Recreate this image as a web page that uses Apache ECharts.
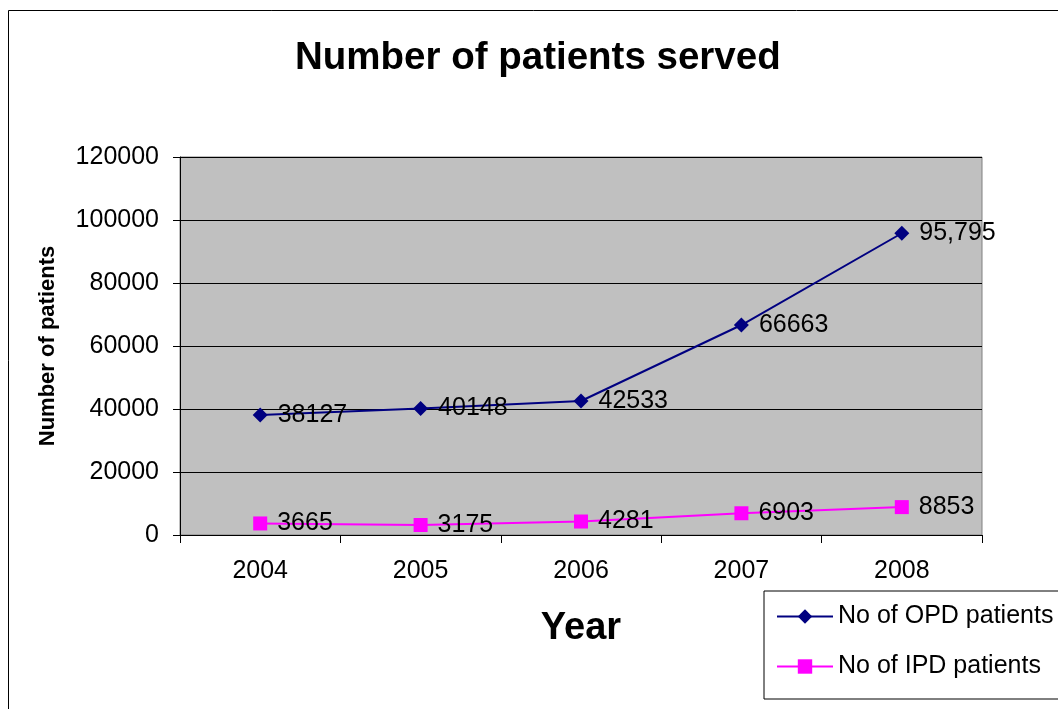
<!DOCTYPE html>
<html>
<head>
<meta charset="utf-8">
<script src="https://cdn.jsdelivr.net/npm/echarts@6/dist/echarts.min.js"></script>
<style>
  html, body { margin: 0; padding: 0; background: #fff; }
  #chart { width: 1058px; height: 709px; }
</style>
</head>
<body>
<div id="chart"></div>
<script>
// data
const years = ['2004', '2005', '2006', '2007', '2008'];
const opdValues = [38127, 40148, 42533, 66663, 95795];
const opdLabels = ['38127', '40148', '42533', '66663', '95,795'];
const ipdValues = [3665, 3175, 4281, 6903, 8853];
const ipdLabels = ['3665', '3175', '4281', '6903', '8853'];

const font = 'Liberation Sans, Arial, sans-serif';

const chart = echarts.init(document.getElementById('chart'));

const option = {
    animation: false,
    textStyle: { fontFamily: font },
    title: {
        text: 'Number of patients served',
        left: 290,
        top: 34,
        textStyle: { fontSize: 38.5, fontWeight: 'bold', color: '#000', fontFamily: font }
    },
    grid: {
        left: 180, top: 157, right: 76, bottom: 174,
        show: true,
        backgroundColor: '#c0c0c0',
        borderColor: '#808080',
        borderWidth: 1
    },
    legend: {
        orient: 'vertical',
        left: 764,
        top: 591,
        padding: [13, 30, 20, 12],
        itemWidth: 56,
        itemHeight: 18,
        itemGap: 25,
        borderColor: '#000',
        borderWidth: 1,
        textStyle: { fontSize: 25, color: '#000', fontFamily: font, padding: [0, 0, 0, 0] },
        data: ['No of OPD patients', 'No of IPD patients']
    },
    xAxis: {
        type: 'category',
        data: years,
        boundaryGap: true,
        name: 'Year',
        nameLocation: 'middle',
        nameGap: 75,
        nameTextStyle: { fontSize: 38, fontWeight: 'bold', color: '#000', fontFamily: font },
        axisLine: { lineStyle: { color: '#000', width: 1 } },
        axisTick: { show: true, length: 8, lineStyle: { color: '#000' } },
        axisLabel: { fontSize: 25, color: '#000', margin: 24, fontFamily: font }
    },
    yAxis: {
        type: 'value',
        min: 0,
        max: 120000,
        interval: 20000,
        name: 'Number of patients',
        nameLocation: 'middle',
        nameGap: 121,
        nameTextStyle: { fontSize: 22, fontWeight: 'bold', color: '#000', fontFamily: font },
        axisLine: { show: true, lineStyle: { color: '#000', width: 1 } },
        axisTick: { show: true, length: 7, lineStyle: { color: '#000' } },
        axisLabel: {
            fontSize: 25, color: '#000', margin: 21, fontFamily: font,
            formatter: function (v) { return String(v); }
        },
        splitLine: { show: true, lineStyle: { color: '#000', width: 1 } }
    },
    graphic: [{
        type: 'rect',
        z: -10,
        shape: { x: 8.5, y: 10.5, width: 1100, height: 800 },
        style: { fill: 'none', stroke: '#000', lineWidth: 1 }
    }],
    series: [
        {
            name: 'No of OPD patients',
            type: 'line',
            data: opdValues,
            symbol: 'diamond',
            symbolSize: 15,
            itemStyle: { color: '#000080' },
            lineStyle: { color: '#000080', width: 2 },
            label: {
                show: true,
                position: 'right',
                distance: 10,
                fontSize: 25,
                color: '#000',
                fontFamily: font,
                formatter: function (p) { return opdLabels[p.dataIndex]; }
            }
        },
        {
            name: 'No of IPD patients',
            type: 'line',
            data: ipdValues,
            symbol: 'rect',
            symbolSize: 14,
            itemStyle: { color: '#ff00ff' },
            lineStyle: { color: '#ff00ff', width: 2 },
            label: {
                show: true,
                position: 'right',
                distance: 10,
                fontSize: 25,
                color: '#000',
                fontFamily: font,
                formatter: function (p) { return ipdLabels[p.dataIndex]; }
            }
        }
    ]
};

chart.setOption(option);
</script>
</body>
</html>
